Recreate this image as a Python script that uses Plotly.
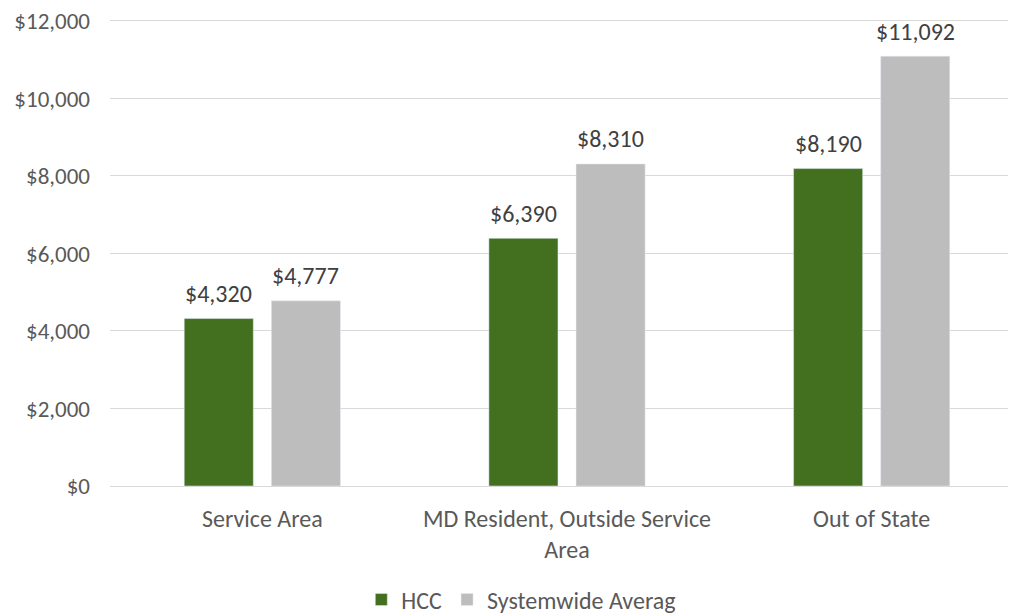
import plotly.graph_objects as go

categories = ["Service Area", "MD Resident, Outside Service<br>Area", "Out of State"]
hcc = [4320, 6390, 8190]
systemwide = [4777, 8310, 11092]
tick_vals = [0, 2000, 4000, 6000, 8000, 10000, 12000]
tick_text = ["$0", "$2,000", "$4,000", "$6,000", "$8,000", "$10,000", "$12,000"]

font = "Carlito, Lato, sans-serif"
green = "#43701f"
gray = "#bcbdbc"

fig = go.Figure()
fig.add_trace(go.Bar(x=categories, y=hcc, name="HCC", marker_color=green))
fig.add_trace(go.Bar(x=categories, y=systemwide, name="Systemwide Averag", marker_color=gray))

# data labels, sitting a bit higher above the bars than plotly's default outside text
slot_px = 87
for vals, shift in [(hcc, -slot_px / 2), (systemwide, slot_px / 2)]:
    for c, v in zip(categories, vals):
        fig.add_annotation(x=c, y=v, text=f"${v:,}", showarrow=False, xshift=shift, yshift=25,
                           yanchor="middle", font=dict(size=24, color="#404040", family=font))

# page body adds an 8px offset, margins take it into account
fig.update_layout(
    width=1016, height=615,
    margin=dict(l=102, r=0, t=11, b=137),
    plot_bgcolor="white", paper_bgcolor="white",
    font=dict(family=font, size=24, color="#595959"),
    barmode="group", bargap=0.428, bargroupgap=0.207,
    showlegend=True,
    legend=dict(orientation="h", x=0.45, xanchor="center", y=-0.244, yanchor="middle",
                font=dict(size=24, color="#595959"), itemwidth=30),
)
fig.update_yaxes(range=[0, 12050], tickvals=tick_vals, ticktext=tick_text, automargin=False,
                 showgrid=True, gridcolor="#d9d9d9", gridwidth=1.3, zeroline=False,
                 showline=False, ticks="", ticklen=0, ticklabelstandoff=19,
                 ticklabeloverflow="allow", tickfont=dict(size=23))
fig.update_xaxes(range=[-0.5, 2.5], showline=True, linecolor="#d9d9d9", linewidth=1.3,
                 automargin=False, ticks="", ticklabelstandoff=11,
                 tickfont=dict(size=24, color="#595959"))

fig.write_html("out.html")
